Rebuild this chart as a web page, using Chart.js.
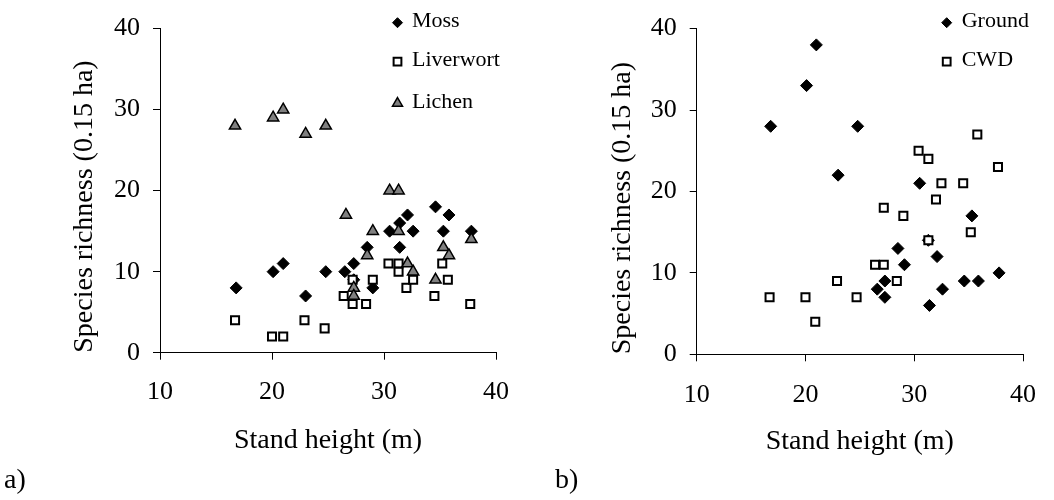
<!DOCTYPE html>
<html><head><meta charset="utf-8">
<script src="https://cdn.jsdelivr.net/npm/chart.js@4/dist/chart.umd.min.js"></script>
<style>
html,body{margin:0;padding:0;background:#fff;}
#wrap{position:relative;width:1054px;height:500px;overflow:hidden;}
.panel{position:absolute;top:0;width:527px;height:500px;}
</style></head><body>
<div id="wrap">
<div class="panel" style="left:0"><canvas id="ca"></canvas></div>
<div class="panel" style="left:527px"><canvas id="cb"></canvas></div>
</div>
<script>
// ---- data ----
const xTickValues = [10, 20, 30, 40];
const yTickValues = [0, 10, 20, 30, 40];
const xTitle = 'Stand height (m)';
const yTitle = 'Species richness (0.15 ha)';

// panel a
const mossX   = [16.8, 20.1, 21.0, 23.0, 24.8, 26.5, 27.3, 27.3, 28.5, 29.0, 30.5, 31.4, 31.4, 32.1, 32.6, 34.6, 35.3, 35.8, 37.8];
const mossY   = [8, 10, 11, 7, 10, 10, 11, 9, 13, 8, 15, 16, 13, 17, 15, 18, 15, 17, 15];
const liverX  = [16.7, 20.0, 21.0, 22.9, 24.7, 26.4, 27.2, 27.2, 28.4, 29.0, 30.4, 31.3, 31.3, 32.0, 32.6, 34.5, 35.2, 35.7, 37.7];
const liverY  = [4, 2, 2, 4, 3, 7, 9, 6, 6, 9, 11, 11, 10, 8, 9, 7, 11, 9, 6];
const lichenX = [16.7, 20.1, 21.0, 23.0, 24.8, 26.6, 27.3, 27.3, 28.5, 29.0, 30.5, 31.3, 31.3, 32.1, 32.6, 34.6, 35.3, 35.8, 37.8];
const lichenY = [28, 29, 30, 27, 28, 17, 8, 7, 12, 15, 20, 20, 15, 11, 10, 9, 13, 12, 14];

// panel b
const groundX = [16.8, 20.1, 21.0, 23.0, 24.8, 26.6, 27.3, 27.3, 28.5, 29.1, 30.5, 31.3, 31.4, 32.1, 32.6, 34.6, 35.3, 35.9, 37.8];
const groundY = [28, 33, 38, 22, 28, 8, 9, 7, 13, 11, 21, 14, 6, 12, 8, 9, 17, 9, 10];
const cwdX    = [16.7, 20.0, 20.9, 22.9, 24.7, 26.4, 27.2, 27.2, 28.4, 29.0, 30.4, 31.3, 31.3, 32.0, 32.5, 34.5, 35.2, 35.8, 37.7];
const cwdY    = [7, 7, 4, 9, 7, 11, 11, 18, 9, 17, 25, 24, 14, 19, 21, 21, 15, 27, 23];

const panelLabels = ['a)', 'b)'];

// ---- helpers ----
const FONT = "'Liberation Serif', 'Times New Roman', serif";
const pts = (xs, ys) => xs.map((x, i) => ({x: x, y: ys[i]}));

const styles = {
  diamond: {pointStyle: 'rectRot', pointRadius: 6, backgroundColor: '#000', borderColor: '#000', borderWidth: 1},
  square:  {pointStyle: 'rect', pointRadius: 5.7, backgroundColor: '#fff', borderColor: '#000', borderWidth: 2},
  triangle:{pointStyle: 'triangle', pointRadius: 6.5, backgroundColor: '#808080', borderColor: '#000', borderWidth: 1.5}
};

function ds(label, xs, ys, st, order) {
  const s = styles[st];
  return {label, data: pts(xs, ys), order, showLine: false,
    pointStyle: s.pointStyle, pointRadius: s.pointRadius, pointHoverRadius: s.pointRadius,
    pointBackgroundColor: s.backgroundColor, pointBorderColor: s.borderColor, pointBorderWidth: s.borderWidth,
    backgroundColor: s.backgroundColor, borderColor: s.borderColor, _st: st};
}

const miniLegend = {
  id: 'miniLegend',
  afterDraw(chart, args, opts) {
    const ctx = chart.ctx;
    ctx.save();
    chart.data.datasets.forEach((d, i) => {
      const s = styles[d._st];
      const y = opts.ys[i];
      ctx.fillStyle = s.backgroundColor;
      ctx.strokeStyle = s.borderColor;
      ctx.lineWidth = s.borderWidth;
      const r = d._st === 'diamond' ? 5 : (d._st === 'triangle' ? 5.8 : 5.5);
      Chart.helpers.drawPoint(ctx, {pointStyle: s.pointStyle, radius: r, rotation: 0, borderWidth: s.borderWidth}, opts.x, y);
      ctx.fillStyle = '#000';
      ctx.font = opts.size + 'px ' + FONT;
      ctx.textBaseline = 'middle';
      ctx.textAlign = 'left';
      ctx.fillText(d.label, opts.textX, y - 1);
    });
    ctx.font = '28px ' + FONT;
    ctx.textBaseline = 'alphabetic';
    ctx.fillText(opts.panel, opts.panelX, 488);
    ctx.restore();
  }
};

function makeChart(id, datasets, cfg) {
  return new Chart(document.getElementById(id), {
    type: 'scatter',
    data: {datasets},
    plugins: [miniLegend],
    options: {
      responsive: true, maintainAspectRatio: false, animation: false, events: [],
      layout: {padding: {left: 0, right: cfg.padRight, top: cfg.padTop, bottom: 0}},
      plugins: {legend: {display: false}, tooltip: {enabled: false},
        miniLegend: cfg.legend},
      scales: {
        x: {type: 'linear', min: 10, max: 40,
          afterBuildTicks: s => { s.ticks = xTickValues.map(v => ({value: v})); },
          afterFit: s => { s.height = cfg.xHeight; },
          ticks: {font: {family: FONT, size: 26}, color: '#000', padding: cfg.xTickPad, maxRotation: 0},
          grid: {drawOnChartArea: false, drawTicks: true, tickLength: 7, color: '#000', lineWidth: 1},
          border: {display: true, color: '#000', width: 1},
          title: {display: true, text: xTitle, color: '#000', font: {family: FONT, size: 28}, padding: {top: 0, bottom: cfg.xTitlePad}}
        },
        y: {type: 'linear', min: 0, max: 40,
          afterBuildTicks: s => { s.ticks = yTickValues.map(v => ({value: v})); },
          afterFit: s => { s.width = cfg.yWidth; },
          ticks: {font: {family: FONT, size: 26}, color: '#000', padding: 13},
          grid: {drawOnChartArea: false, drawTicks: true, tickLength: 7, color: '#000', lineWidth: 1},
          border: {display: true, color: '#000', width: 1},
          title: {display: true, text: yTitle, align: 'start', color: '#000', font: {family: FONT, size: 28}, padding: {top: cfg.yTitlePad, bottom: 0}}
        }
      }
    }
  });
}

makeChart('ca', [
  ds('Moss', mossX, mossY, 'diamond', 3),
  ds('Liverwort', liverX, liverY, 'square', 2),
  ds('Lichen', lichenX, lichenY, 'triangle', 1)
], {padRight: 31, padTop: 26, xHeight: 147.3, yWidth: 160, xTickPad: 16.5, xTitlePad: 43, yTitlePad: 67.7,
    legend: {x: 397.5, ys: [22.7, 61.7, 103.3], textX: 412, size: 22, panel: panelLabels[0], panelX: 4}});

makeChart('cb', [
  ds('Ground', groundX, groundY, 'diamond', 2),
  ds('CWD', cwdX, cwdY, 'square', 1)
], {padRight: 20, padTop: 26.3, xHeight: 145.7, yWidth: 169.7, xTickPad: 18, xTitlePad: 41.5, yTitlePad: 79,
    legend: {x: 419.7, ys: [22.7, 61.7], textX: 434.7, size: 22, panel: panelLabels[1], panelX: 28}});
</script>
</body></html>
